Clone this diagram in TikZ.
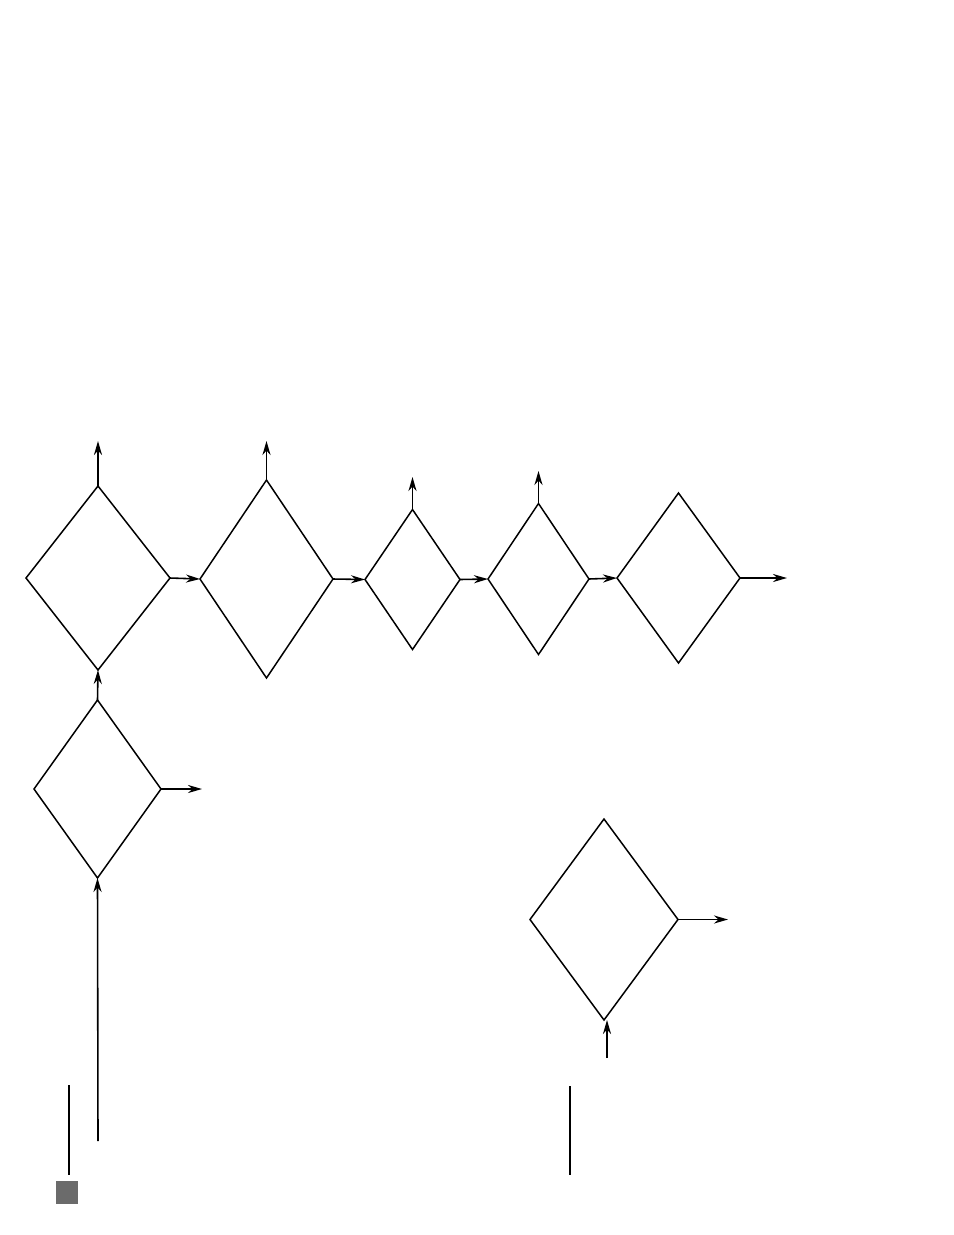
\documentclass[tikz,border=0pt]{standalone}
\usetikzlibrary{shapes.geometric,arrows.meta}

\begin{document}
\begin{tikzpicture}[x=0.02cm,y=-0.02cm]
      \newcommand{\pxl}[0]{ 0.02cm }
      \tikzstyle{dia} = [shape=diamond,draw=black,line width=0.85pt,inner sep=0pt,outer sep=0pt]
      \tikzstyle{dedge} = [line width=0.9pt,->,>={Stealth[length=8pt,width=4.6pt]},draw=black]
      \tikzstyle{tick} = [line width=0.6pt,draw=black]
      \useasboundingbox (0,0) rectangle (954,1235);
      % diamonds
      \node[dia,minimum width=144*\pxl,minimum height=184*\pxl] (d1) at (98,578) {};
      \node[dia,minimum width=133*\pxl,minimum height=198*\pxl] (d2) at (266.5,579) {};
      \node[dia,minimum width=95*\pxl,minimum height=140*\pxl] (d3) at (412.5,579.5) {};
      \node[dia,minimum width=101*\pxl,minimum height=151*\pxl] (d4) at (538.5,579) {};
      \node[dia,minimum width=123*\pxl,minimum height=170*\pxl] (d5) at (678.5,578) {};
      \node[dia,minimum width=127*\pxl,minimum height=178*\pxl] (d6) at (97.5,789) {};
      \node[dia,minimum width=148*\pxl,minimum height=201*\pxl] (d7) at (604,919.5) {};
      % free ends
      \coordinate (u1) at (98,441);
      \coordinate (u2) at (266.5,441);
      \coordinate (u3) at (412.5,477);
      \coordinate (u4) at (538.5,471);
      \coordinate (r5) at (787,578);
      \coordinate (r6) at (202,789);
      \coordinate (r7) at (728,919.5);
      \coordinate (in6) at (98,1141);
      \coordinate (in7) at (607,1058);
      % connectors
      \draw[dedge] (d1.north) -- (u1);
      \draw[dedge] (d2.north) -- (u2);
      \draw[dedge] (d3.north) -- (u3);
      \draw[dedge] (d4.north) -- (u4);
      \draw[dedge] (d1.east) -- (d2.west);
      \draw[dedge] (d2.east) -- (d3.west);
      \draw[dedge] (d3.east) -- (d4.west);
      \draw[dedge] (d4.east) -- (d5.west);
      \draw[dedge] (d5.east) -- (r5);
      \draw[dedge] (d6.north) -- (d1.south);
      \draw[dedge] (d6.east) -- (r6);
      \draw[dedge] (in6) -- (d6.south);
      \draw[dedge] (d7.east) -- (r7);
      \draw[dedge] (in7) -- (d7.south -| in7);
      % marks at the foot
      \draw[tick] (69,1085) -- (69,1175);
      \draw[tick] (570,1086) -- (570,1175);
      \fill[black!58] (56,1181) rectangle (78,1204);
    \end{tikzpicture}
\end{document}
